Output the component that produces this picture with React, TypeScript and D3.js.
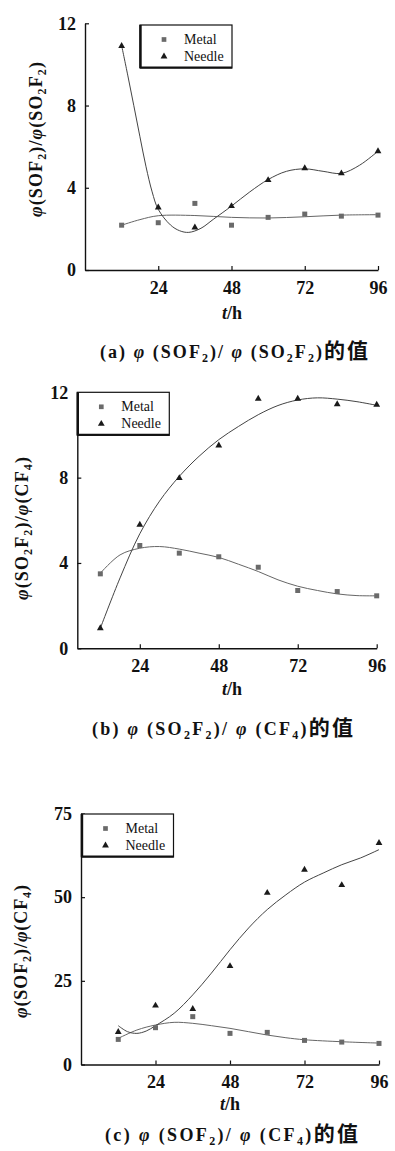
import { useEffect, useRef } from "react";
import * as d3 from "d3";

const hours = [12, 24, 36, 48, 60, 72, 84, 96];
const xTicks = [24, 48, 72, 96];
const seriesNames = ["Metal", "Needle"];

// (a) SOF2 / SO2F2
const yTicksA = [0, 4, 8, 12];
const metalA = [2.18, 2.3, 3.24, 2.18, 2.56, 2.72, 2.62, 2.67];
const needleA = [10.9, 3.04, 2.07, 3.11, 4.37, 4.95, 4.7, 5.78];
const metalFitHoursA = [12, 18, 24, 36, 48, 60, 72, 84, 96];
const metalFitA = [2.18, 2.45, 2.64, 2.65, 2.56, 2.53, 2.59, 2.67, 2.69];
const needleFitHoursA = [12, 14, 16, 18, 20, 22, 24, 28, 31, 34, 38, 42, 48, 54, 60, 66, 72, 78, 84, 90, 96];
const needleFitA = [10.92, 9.48, 7.99, 6.48, 5.02, 3.8, 2.95, 2.19, 1.91, 1.83, 2.03, 2.46, 3.11, 3.8, 4.4, 4.8, 4.92, 4.8, 4.7, 5.1, 5.78];

// (b) SO2F2 / CF4
const yTicksB = [0, 4, 8, 12];
const metalB = [3.49, 4.82, 4.46, 4.29, 3.8, 2.71, 2.66, 2.46];
const needleB = [0.94, 5.79, 7.98, 9.51, 11.7, 11.7, 11.44, 11.42];
const metalFitHoursB = [12, 18, 24, 30, 36, 42, 48, 54, 60, 66, 72, 78, 84, 90, 96];
const metalFitB = [3.52, 4.38, 4.69, 4.77, 4.65, 4.46, 4.26, 3.94, 3.6, 3.21, 2.91, 2.71, 2.55, 2.47, 2.46];
const needleFitHoursB = [12, 18, 24, 30, 36, 42, 48, 54, 60, 66, 72, 78, 84, 90, 96];
const needleFitB = [0.94, 3.3, 5.37, 6.9, 8.06, 9.0, 9.78, 10.4, 10.95, 11.38, 11.64, 11.74, 11.68, 11.56, 11.39];

// (c) SOF2 / CF4
const yTicksC = [0, 25, 50, 75];
const metalC = [7.5, 11.0, 14.3, 9.3, 9.6, 7.2, 6.7, 6.3];
const needleC = [9.7, 17.6, 16.6, 29.4, 51.3, 58.2, 53.6, 66.2];
const metalFitHoursC = [12, 18, 24, 30, 36, 42, 48, 54, 60, 66, 72, 84, 96];
const metalFitC = [7.8, 10.3, 11.8, 12.6, 12.3, 11.6, 10.8, 9.8, 8.8, 8.0, 7.4, 6.8, 6.4];
const needleFitHoursC = [12, 15, 18, 21, 24, 30, 36, 42, 48, 54, 60, 66, 72, 78, 84, 90, 96];
const needleFitC = [11.6, 9.8, 9.3, 10.0, 11.6, 15.3, 20.8, 27.3, 34.3, 40.8, 46.3, 50.7, 54.5, 57.2, 59.7, 61.7, 64.2];

const SERIF = "'Liberation Serif', 'Times New Roman', serif";
const CJK = "'Noto Sans CJK SC', sans-serif";

const panels = [
  {
    metal: metalA, needle: needleA,
    metalFitT: metalFitHoursA, metalFit: metalFitA,
    needleFitT: needleFitHoursA, needleFit: needleFitA,
    yTicks: yTicksA,
    xDomain: [0, 96], xRange: [85, 378],
    yDomain: [0, 12], yRange: [270, 23.3],
    legend: [140, 25],
  },
  {
    metal: metalB, needle: needleB,
    metalFitT: metalFitHoursB, metalFit: metalFitB,
    needleFitT: needleFitHoursB, needleFit: needleFitB,
    yTicks: yTicksB,
    xDomain: [5, 96], xRange: [77.3, 376.7],
    yDomain: [0, 12], yRange: [648.3, 392.3],
    legend: [77.3, 392.3],
  },
  {
    metal: metalC, needle: needleC,
    metalFitT: metalFitHoursC, metalFit: metalFitC,
    needleFitT: needleFitHoursC, needleFit: needleFitC,
    yTicks: yTicksC,
    xDomain: [0, 96], xRange: [81, 379],
    yDomain: [0, 75], yRange: [1064.5, 813.5],
    legend: [81.5, 814],
  },
];

const drawPanel = (g, p) => {
  const x = d3.scaleLinear().domain(p.xDomain).range(p.xRange);
  const y = d3.scaleLinear().domain(p.yDomain).range(p.yRange);

  const xAxis = g
    .append("g")
    .attr("transform", `translate(0,${p.yRange[0]})`)
    .call(d3.axisBottom(x).tickValues(xTicks).tickSizeInner(-4).tickSizeOuter(0).tickPadding(11));
  const yAxis = g
    .append("g")
    .attr("transform", `translate(${p.xRange[0]},0)`)
    .call(d3.axisLeft(y).tickValues(p.yTicks).tickSizeInner(-4).tickSizeOuter(0).tickPadding(9));

  [xAxis, yAxis].forEach((a) => {
    a.attr("font-family", SERIF).attr("font-size", 18).attr("font-weight", "bold");
    a.select(".domain").attr("stroke", "#111").attr("stroke-width", 1.4);
    a.selectAll(".tick line").attr("stroke", "#111").attr("stroke-width", 1.2);
    a.selectAll(".tick text").attr("fill", "#111");
  });

  const line = d3
    .line()
    .x((d) => x(d[0]))
    .y((d) => y(d[1]))
    .curve(d3.curveCatmullRom.alpha(0.5));

  g.append("path")
    .datum(d3.zip(p.metalFitT, p.metalFit))
    .attr("fill", "none")
    .attr("stroke", "#666")
    .attr("stroke-width", 1)
    .attr("d", line);

  g.append("path")
    .datum(d3.zip(p.needleFitT, p.needleFit))
    .attr("fill", "none")
    .attr("stroke", "#444")
    .attr("stroke-width", 1)
    .attr("d", line);

  g.selectAll(".metal")
    .data(d3.zip(hours, p.metal))
    .join("path")
    .attr("class", "metal")
    .attr("transform", (d) => `translate(${x(d[0])},${y(d[1])})`)
    .attr("d", d3.symbol(d3.symbolSquare, 25))
    .attr("fill", "#6a6a6a");

  g.selectAll(".needle")
    .data(d3.zip(hours, p.needle))
    .join("path")
    .attr("class", "needle")
    .attr("transform", (d) => `translate(${x(d[0])},${y(d[1])})`)
    .attr("d", d3.symbol(d3.symbolTriangle, 20))
    .attr("fill", "#1a1a1a");

  // legend
  const lg = g.append("g").attr("transform", `translate(${p.legend[0]},${p.legend[1]})`);
  lg.append("rect")
    .attr("width", 92)
    .attr("height", 43)
    .attr("fill", "#fff")
    .attr("stroke", "#111")
    .attr("stroke-width", 1.2);
  lg.append("line").attr("x1", 0.5).attr("x2", 0.5).attr("y1", 0).attr("y2", 43).attr("stroke", "#111").attr("stroke-width", 2.4);
  lg.append("line").attr("x1", 0).attr("x2", 92).attr("y1", 42.5).attr("y2", 42.5).attr("stroke", "#111").attr("stroke-width", 2);

  lg.append("path")
    .attr("transform", "translate(24,14.5)")
    .attr("d", d3.symbol(d3.symbolSquare, 22))
    .attr("fill", "#6a6a6a");
  lg.append("path")
    .attr("transform", "translate(24,31.5)")
    .attr("d", d3.symbol(d3.symbolTriangle, 20))
    .attr("fill", "#1a1a1a");

  lg.selectAll("text")
    .data(seriesNames)
    .join("text")
    .attr("x", 44)
    .attr("y", (d, i) => 19 + i * 17)
    .attr("font-family", SERIF)
    .attr("font-size", 14)
    .attr("fill", "#111")
    .text((d) => d);
};

const Sub = ({ children }) => (
  <tspan baselineShift="-4" fontSize={12}>
    {children}
  </tspan>
);

const Phi = () => <tspan fontStyle="italic">φ</tspan>;

const XLabel = ({ x, y }) => (
  <text x={x} y={y} textAnchor="middle" fontFamily={SERIF} fontWeight="bold" fontSize={18} fill="#111">
    <tspan fontStyle="italic">t</tspan>/h
  </text>
);

const YLabel = ({ x, y, len, children }) => (
  <text
    transform={`translate(${x},${y}) rotate(-90)`}
    dy="0.35em"
    textLength={len}
    lengthAdjust="spacing"
    fontFamily={SERIF}
    fontWeight="bold"
    fontSize={18}
    fill="#111"
  >
    {children}
  </text>
);

const Caption = ({ x, y, len, children }) => (
  <text
    x={x}
    y={y}
    textLength={len}
    lengthAdjust="spacing"
    fontFamily={SERIF}
    fontWeight="bold"
    fontSize={18}
    fill="#111"
  >
    {children}
    <tspan fontFamily={CJK} fontSize={21}>
      的值
    </tspan>
  </text>
);

const App = () => {
  const gRef = useRef();

  useEffect(() => {
    const g = d3.select(gRef.current);
    g.selectAll("*").remove();
    panels.forEach((p) => drawPanel(g.append("g"), p));
  }, []);

  return (
    <svg
      width={395}
      height={1151}
      style={{ position: "absolute", left: 0, top: 0, background: "#fff" }}
    >
      <g ref={gRef}></g>

      {/* axis titles */}
      <YLabel x={36} y={217} len={155}>
        <Phi />(SOF<Sub>2</Sub>)/<Phi />(SO<Sub>2</Sub>F<Sub>2</Sub>)
      </YLabel>
      <YLabel x={22} y={600} len={143}>
        <Phi />(SO<Sub>2</Sub>F<Sub>2</Sub>)/<Phi />(CF<Sub>4</Sub>)
      </YLabel>
      <YLabel x={21} y={1018} len={133}>
        <Phi />(SOF<Sub>2</Sub>)/<Phi />(CF<Sub>4</Sub>)
      </YLabel>

      <XLabel x={232} y={319} />
      <XLabel x={232} y={695} />
      <XLabel x={230} y={1110} />

      {/* captions */}
      <Caption x={100} y={358} len={268}>
        (a) <Phi /> (SOF<Sub>2</Sub>)/ <Phi /> (SO<Sub>2</Sub>F<Sub>2</Sub>)
      </Caption>
      <Caption x={92} y={735} len={261}>
        (b) <Phi /> (SO<Sub>2</Sub>F<Sub>2</Sub>)/ <Phi /> (CF<Sub>4</Sub>)
      </Caption>
      <Caption x={105} y={1141} len={253}>
        (c) <Phi /> (SOF<Sub>2</Sub>)/ <Phi /> (CF<Sub>4</Sub>)
      </Caption>
    </svg>
  );
};

export default App;
